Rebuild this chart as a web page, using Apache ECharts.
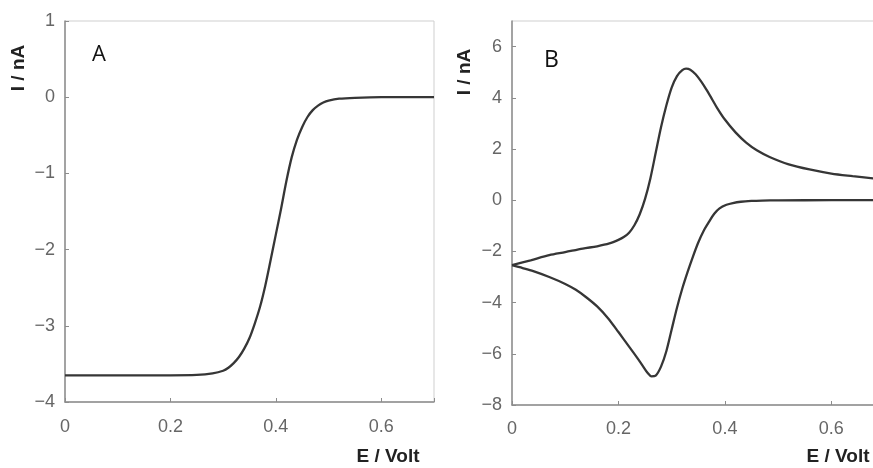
<!DOCTYPE html>
<html>
<head>
<meta charset="utf-8">
<script src="https://cdn.jsdelivr.net/npm/echarts@6/dist/echarts.min.js"></script>
<style>
  html, body { margin: 0; padding: 0; background: #fff; }
  #chart { width: 873px; height: 468px; }
</style>
</head>
<body>
<div id="chart"></div>
<script>
"use strict";
// panel A : steady-state voltammogram
var potA = [0, 0.1, 0.2, 0.25, 0.28, 0.3, 0.31, 0.32, 0.33, 0.34, 0.35, 0.36, 0.37, 0.38, 0.39, 0.4, 0.41, 0.42, 0.43, 0.44, 0.45, 0.46, 0.47, 0.48, 0.49, 0.5, 0.52, 0.55, 0.6, 0.7];
var curA = [-3.65, -3.65, -3.65, -3.645, -3.625, -3.59, -3.55, -3.49, -3.41, -3.3, -3.16, -2.97, -2.75, -2.47, -2.14, -1.8, -1.46, -1.1, -0.79, -0.56, -0.39, -0.26, -0.17, -0.11, -0.07, -0.045, -0.02, -0.008, 0, 0];

// panel B : cyclic voltammogram, forward and reverse scan
var potFwd = [0, 0.035, 0.07, 0.1, 0.133, 0.16, 0.183, 0.2, 0.21, 0.22, 0.23, 0.24, 0.25, 0.26, 0.27, 0.28, 0.29, 0.3, 0.31, 0.32, 0.327, 0.335, 0.345, 0.355, 0.365, 0.375, 0.385, 0.4, 0.42, 0.44, 0.46, 0.484, 0.52, 0.559, 0.6, 0.64, 0.68];
var curFwd = [-2.54, -2.35, -2.15, -2.03, -1.89, -1.8, -1.69, -1.55, -1.44, -1.27, -0.98, -0.55, 0.05, 0.85, 1.85, 2.85, 3.7, 4.4, 4.85, 5.08, 5.14, 5.1, 4.92, 4.65, 4.33, 3.98, 3.62, 3.15, 2.65, 2.25, 1.95, 1.69, 1.4, 1.2, 1.04, 0.94, 0.85];
var potRev = [0.68, 0.6, 0.5, 0.47, 0.45, 0.43, 0.415, 0.403, 0.39, 0.38, 0.37, 0.36, 0.35, 0.34, 0.33, 0.32, 0.31, 0.3, 0.29, 0.28, 0.27, 0.262, 0.255, 0.245, 0.235, 0.22, 0.2, 0.18, 0.16, 0.14, 0.12, 0.1, 0.07, 0.04, 0.02, 0];
var curRev = [0, 0, -0.005, -0.015, -0.03, -0.06, -0.11, -0.18, -0.32, -0.53, -0.85, -1.2, -1.65, -2.2, -2.8, -3.45, -4.2, -5.05, -5.9, -6.5, -6.85, -6.88, -6.75, -6.45, -6.15, -5.72, -5.15, -4.6, -4.15, -3.8, -3.5, -3.27, -3.0, -2.77, -2.65, -2.54];

var xTicks = [0, 0.2, 0.4, 0.6];

function pairs(xs, ys) {
    return xs.map(function (x, i) { return [x, ys[i]]; });
}
function fmt(v) {
    return String(v).replace("-", "\u2212");
}

var axisCol = "#8c8c8c";
var labelStyle = { color: "#666", fontSize: 18, fontFamily: "Liberation Sans, Arial, sans-serif" };

function xAxisOf(idx, max, margin) {
    return {
        type: "value", gridIndex: idx, min: 0, max: max, interval: 0.2,
        axisLine: { show: true, onZero: false, lineStyle: { color: axisCol, width: 1.5 } },
        axisTick: { show: true, inside: true, length: 4, lineStyle: { color: axisCol } },
        axisLabel: Object.assign({ margin: margin, formatter: function (v) {
            return xTicks.indexOf(Math.round(v * 10) / 10) >= 0 && Math.abs(v * 5 - Math.round(v * 5)) < 1e-6 ? fmt(v) : "";
        } }, labelStyle),
        splitLine: { show: false }
    };
}
function yAxisOf(idx, min, max, step, showMax) {
    return {
        type: "value", gridIndex: idx, min: min, max: max, interval: step,
        axisLine: { show: true, onZero: false, lineStyle: { color: axisCol, width: 1.5 } },
        axisTick: { show: true, inside: true, length: 4, lineStyle: { color: axisCol } },
        axisLabel: Object.assign({ margin: 10, showMaxLabel: showMax, formatter: fmt }, labelStyle),
        splitLine: { show: false }
    };
}
function curve(xi, data) {
    return {
        type: "line", xAxisIndex: xi, yAxisIndex: xi, data: data,
        smooth: 0.3, symbol: "none", silent: true,
        lineStyle: { color: "#363636", width: 2.3 }
    };
}

var chart = echarts.init(document.getElementById("chart"), null, { renderer: "canvas" });
chart.setOption({
    animation: false,
    backgroundColor: "#fff",
    grid: [
        { left: 65, top: 21, width: 369, height: 381, show: true, borderColor: "#cfcfcf", borderWidth: 1, outerBoundsMode: "none", containLabel: false },
        { left: 512, top: 21, width: 372, height: 384, show: true, borderColor: "#cfcfcf", borderWidth: 1, outerBoundsMode: "none", containLabel: false }
    ],
    xAxis: [xAxisOf(0, 0.7, 16), xAxisOf(1, 0.699, 15)],
    yAxis: [yAxisOf(0, -4, 1, 1, true), yAxisOf(1, -8, 7, 2, false)],
    series: [
        curve(0, pairs(potA, curA)),
        curve(1, pairs(potFwd, curFwd)),
        curve(1, pairs(potRev, curRev))
    ],
    graphic: [
        { type: "text", left: 92, top: 44, style: { text: "A", fontSize: 22, fill: "#111", fontFamily: "Open Sans, sans-serif" } },
        { type: "text", left: 544, top: 49, style: { text: "B", fontSize: 23, fill: "#111", fontFamily: "Open Sans, sans-serif" } },
        { type: "text", x: 19, y: 68, rotation: Math.PI / 2, style: { text: "I / nA", fontSize: 19, fontWeight: "bold", fill: "#222", align: "center", verticalAlign: "middle", fontFamily: "Liberation Sans, Arial, sans-serif" } },
        { type: "text", x: 465, y: 72, rotation: Math.PI / 2, style: { text: "I / nA", fontSize: 19, fontWeight: "bold", fill: "#222", align: "center", verticalAlign: "middle", fontFamily: "Liberation Sans, Arial, sans-serif" } },
        { type: "text", x: 388, y: 457, style: { text: "E / Volt", fontSize: 19, fontWeight: "bold", fill: "#222", align: "center", verticalAlign: "middle", fontFamily: "Liberation Sans, Arial, sans-serif" } },
        { type: "text", x: 838, y: 457, style: { text: "E / Volt", fontSize: 19, fontWeight: "bold", fill: "#222", align: "center", verticalAlign: "middle", fontFamily: "Liberation Sans, Arial, sans-serif" } }
    ]
});
</script>
</body>
</html>
